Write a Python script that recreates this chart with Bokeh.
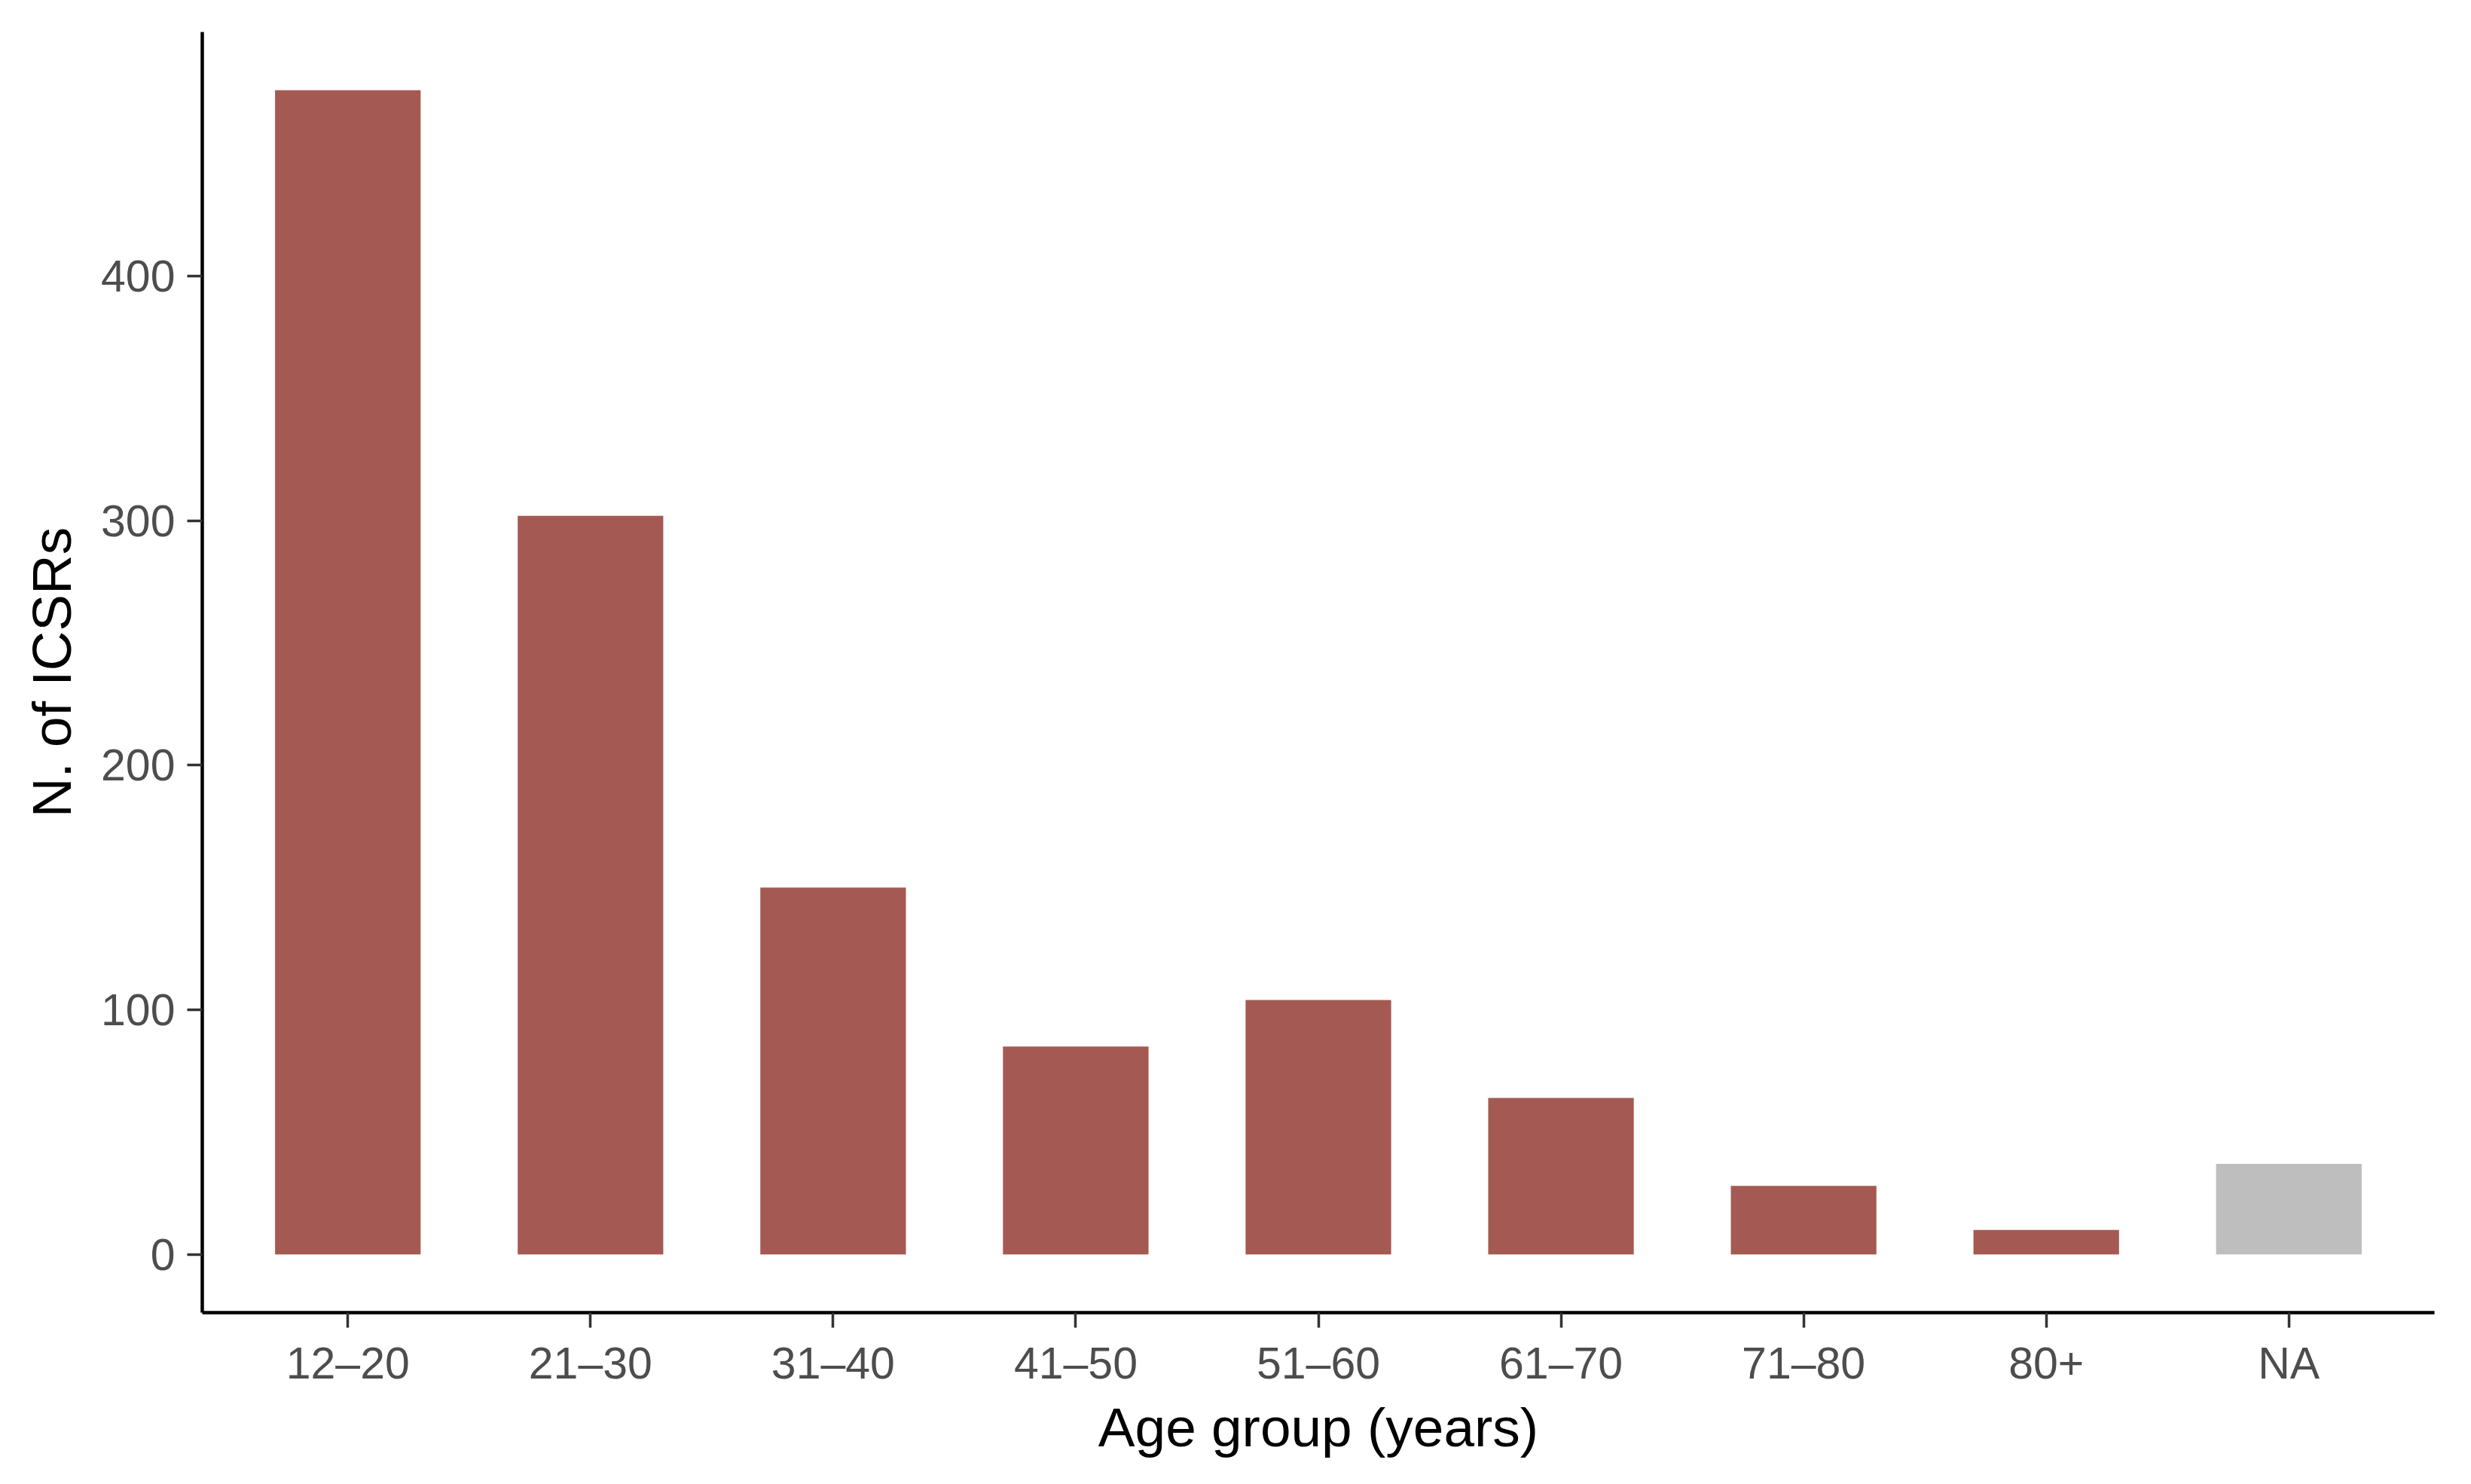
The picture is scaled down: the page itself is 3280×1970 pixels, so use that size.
from bokeh.plotting import figure
from bokeh.models import ColumnDataSource, FactorRange, Range1d, FixedTicker
from bokeh.embed import file_html
from bokeh.resources import INLINE

# ---- data ----
age_groups = ["12\u201320", "21\u201330", "31\u201340", "41\u201350", "51\u201360",
              "61\u201370", "71\u201380", "80+", "NA"]
n_icsrs = [476, 302, 150, 85, 104, 64, 28, 10, 37]
y_ticks = [0, 100, 200, 300, 400]

BAR = "#A45A52"
NA_COL = "#BEBEBE"
colors = [NA_COL if g == "NA" else BAR for g in age_groups]

src = ColumnDataSource(dict(x=age_groups, top=n_icsrs, color=colors))

ymax = max(n_icsrs)
pad = 0.05 * ymax

p = figure(
    width=3264, height=1954,
    x_range=FactorRange(*age_groups, range_padding=0.1, range_padding_units="absolute"),
    y_range=Range1d(-pad, ymax + pad),
    output_backend="svg", toolbar_location=None,
    min_border_left=268, min_border_right=33, min_border_top=42, min_border_bottom=212,
)

p.vbar(x="x", top="top", bottom=0, width=0.6, source=src,
       fill_color="color", line_color=None)

p.xgrid.visible = False
p.ygrid.visible = False
p.outline_line_color = None
p.background_fill_color = "white"
p.border_fill_color = "white"

p.yaxis.ticker = FixedTicker(ticks=y_ticks)
p.yaxis.minor_tick_line_color = None

for ax in (p.xaxis[0], p.yaxis[0]):
    ax.axis_line_color = "black"
    ax.axis_line_width = 4.5
    ax.major_tick_line_color = "#333333"
    ax.major_tick_line_width = 3.5
    ax.major_tick_out = 20
    ax.major_tick_in = 0
    ax.major_label_text_font = "Liberation Sans"
    ax.major_label_text_font_size = "59px"
    ax.major_label_text_color = "#4D4D4D"
    ax.axis_label_text_font = "Liberation Sans"
    ax.axis_label_text_font_size = "73px"
    ax.axis_label_text_font_style = "normal"
    ax.axis_label_text_color = "black"

p.xaxis.axis_label = "Age group (years)"
p.yaxis.axis_label = "N. of ICSRs"
p.xaxis.major_label_standoff = 14
p.yaxis.major_label_standoff = 16
p.xaxis.axis_label_standoff = 8
p.yaxis.axis_label_standoff = 22

open("out.html", "w").write(file_html(p, INLINE))
